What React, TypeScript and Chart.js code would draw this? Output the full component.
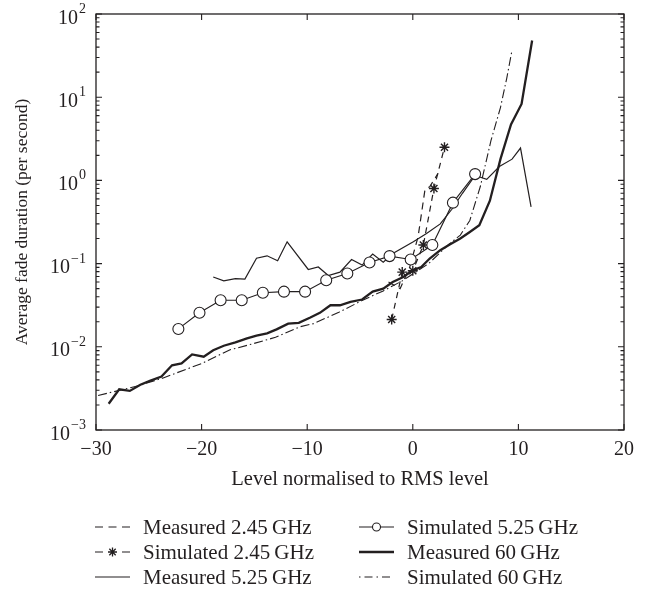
import React, { useEffect, useRef } from 'react';
import { Chart, registerables } from 'chart.js';

Chart.register(...registerables);

const INK = '#231f20';
const FONT = '"Liberation Serif", "Times New Roman", serif';
const FONT_SIZE = 20;
const LEGEND_FONT_SIZE = 21;
const YTITLE_FONT_SIZE = 17.5;

// Axis definitions
const xTickValues = [-30, -20, -10, 0, 10, 20];
const yDecades = [1e-3, 1e-2, 1e-1, 1, 10, 100];
const yExponents = ['\u22123', '\u22122', '\u22121', '0', '1', '2'];
const xTitle = 'Level normalised to RMS level';
const yTitle = 'Average fade duration (per second)';

// Series: Measured 2.45 GHz
const measured245X = [-2.3, -1.2, -0.3, 0.5, 1.15, 1.6, 2.4];
const measured245Y = [0.06, 0.05, 0.09, 0.21, 0.77, 0.84, 1.22];

// Series: Simulated 2.45 GHz
const simulated245X = [-2, -1, 0, 1, 2, 3];
const simulated245Y = [0.0213, 0.079, 0.082, 0.167, 0.8, 2.5];

// Series: Measured 5.25 GHz
const measured525X = [-18.9, -17.9, -16.8, -15.9, -14.8, -13.8, -12.8, -11.9, -9.9, -8.95, -8.0, -6.9, -5.8, -4.8, -3.8, -2.8, -1.85, 0.05, 1.3, 2.6, 3.7, 4.7, 5.9, 7.0, 8.2, 9.4, 10.2, 11.2];
const measured525Y = [0.069, 0.062, 0.066, 0.065, 0.116, 0.124, 0.108, 0.183, 0.085, 0.091, 0.072, 0.079, 0.112, 0.096, 0.13, 0.104, 0.133, 0.183, 0.23, 0.3, 0.45, 0.7, 1.15, 1.03, 1.47, 1.8, 2.45, 0.48];

// Series: Simulated 5.25 GHz
const simulated525X = [-22.2, -20.2, -18.2, -16.2, -14.2, -12.2, -10.2, -8.2, -6.2, -4.1, -2.2, -0.2, 1.85, 3.8, 5.9];
const simulated525Y = [0.0164, 0.0257, 0.0363, 0.0363, 0.0447, 0.046, 0.046, 0.063, 0.076, 0.103, 0.123, 0.112, 0.167, 0.54, 1.19];

// Series: Measured 60 GHz
const measured60X = [-28.8, -27.8, -26.8, -25.8, -24.9, -23.8, -22.8, -21.9, -20.9, -19.8, -18.9, -17.9, -16.8, -15.7, -14.8, -13.8, -12.9, -11.8, -10.8, -9.7, -8.8, -7.8, -6.9, -5.9, -4.8, -3.8, -2.8, -1.9, -0.9, 0, 0.8, 1.6, 2.6, 3.5, 4.5, 5.4, 6.3, 7.3, 8.3, 9.3, 10.3, 11.3];
const measured60Y = [0.00207, 0.00308, 0.00295, 0.0035, 0.0039, 0.0044, 0.006, 0.0063, 0.0081, 0.0076, 0.0091, 0.0103, 0.0113, 0.0126, 0.0136, 0.0145, 0.0162, 0.019, 0.0194, 0.0225, 0.0256, 0.0316, 0.0316, 0.0347, 0.037, 0.046, 0.05, 0.06, 0.069, 0.083, 0.091, 0.115, 0.145, 0.17, 0.2, 0.24, 0.29, 0.57, 1.8, 4.7, 8.3, 48];

// Series: Simulated 60 GHz
const simulated60X = [-29.8, -26, -23.7, -20, -17.3, -15.7, -13, -10.7, -9.4, -7, -4.8, -2.8, -1, 0, 1.5, 3.4, 4.5, 5.4, 6.4, 7.4, 8.3, 8.9, 9.4];
const simulated60Y = [0.0026, 0.0034, 0.0042, 0.0063, 0.0092, 0.0104, 0.013, 0.0174, 0.019, 0.026, 0.036, 0.047, 0.062, 0.075, 0.1, 0.17, 0.22, 0.33, 0.85, 3.0, 7.5, 17, 37];

const seriesNames = [
  'Measured 2.45\u2009GHz',
  'Simulated 2.45\u2009GHz',
  'Measured 5.25\u2009GHz',
  'Simulated 5.25\u2009GHz',
  'Measured 60\u2009GHz',
  'Simulated 60\u2009GHz',
];

const pts = (xs: number[], ys: number[]) => xs.map((x, i) => ({ x, y: ys[i] }));

const axesPlugin = {
  id: 'paperAxes',
  afterDatasetsDraw(chart: any) {
    const { ctx, chartArea: a, scales } = chart;
    const xs = scales.x;
    const ys = scales.y;
    ctx.save();
    ctx.strokeStyle = INK;
    ctx.lineWidth = 1.3;
    ctx.setLineDash([]);
    ctx.strokeRect(a.left, a.top, a.right - a.left, a.bottom - a.top);
    ctx.lineWidth = 1.1;
    const major = 6;
    const minor = 3.5;
    ctx.beginPath();
    xTickValues.forEach((v) => {
      const px = xs.getPixelForValue(v);
      ctx.moveTo(px, a.bottom);
      ctx.lineTo(px, a.bottom - major);
      ctx.moveTo(px, a.top);
      ctx.lineTo(px, a.top + major);
    });
    yDecades.forEach((d, i) => {
      const py = ys.getPixelForValue(d);
      ctx.moveTo(a.left, py);
      ctx.lineTo(a.left + major, py);
      ctx.moveTo(a.right, py);
      ctx.lineTo(a.right - major, py);
      if (i < yDecades.length - 1) {
        for (let m = 2; m <= 9; m++) {
          const pm = ys.getPixelForValue(d * m);
          ctx.moveTo(a.left, pm);
          ctx.lineTo(a.left + minor, pm);
          ctx.moveTo(a.right, pm);
          ctx.lineTo(a.right - minor, pm);
        }
      }
    });
    ctx.stroke();

    // y tick labels: 10 with superscript exponent
    ctx.fillStyle = INK;
    ctx.textAlign = 'right';
    ctx.textBaseline = 'alphabetic';
    const expRight = a.left - 10;
    yDecades.forEach((d, i) => {
      const py = ys.getPixelForValue(d);
      ctx.font = `14px ${FONT}`;
      const ew = ctx.measureText(yExponents[i]).width;
      ctx.fillText(yExponents[i], expRight, py - 1);
      ctx.font = `${FONT_SIZE}px ${FONT}`;
      ctx.fillText('10', expRight - ew - 1, py + 9.5);
    });

    // legend
    const colX = [95, 359];
    const rowY = [527, 552, 577];
    const sampleW = 35;
    const textGap = 48;
    chart.data.datasets.forEach((ds: any) => {
      const k = ds.legendIndex;
      const col = Math.floor(k / 3);
      const row = k % 3;
      const x0 = colX[col];
      const y0 = rowY[row];
      ctx.save();
      ctx.strokeStyle = INK;
      ctx.lineWidth = ds.borderWidth;
      ctx.setLineDash(ds.legendDash || []);
      ctx.beginPath();
      ctx.moveTo(x0, y0);
      ctx.lineTo(x0 + sampleW, y0);
      ctx.stroke();
      ctx.setLineDash([]);
      if (ds.pointStyle === 'circle' && ds.pointRadius > 0) {
        ctx.beginPath();
        ctx.fillStyle = '#ffffff';
        ctx.lineWidth = 1.1;
        ctx.arc(x0 + sampleW / 2, y0, 4, 0, Math.PI * 2);
        ctx.fill();
        ctx.stroke();
      } else if (ds.pointStyle === 'star' && ds.pointRadius > 0) {
        const cx = x0 + sampleW / 2;
        const r = 4.5;
        ctx.lineWidth = 1.3;
        ctx.beginPath();
        for (let j = 0; j < 4; j++) {
          const ang = (j * Math.PI) / 4;
          ctx.moveTo(cx - r * Math.cos(ang), y0 - r * Math.sin(ang));
          ctx.lineTo(cx + r * Math.cos(ang), y0 + r * Math.sin(ang));
        }
        ctx.stroke();
      }
      ctx.fillStyle = INK;
      ctx.font = `${LEGEND_FONT_SIZE}px ${FONT}`;
      ctx.textAlign = 'left';
      ctx.textBaseline = 'middle';
      ctx.fillText(ds.label, x0 + textGap, y0 + 1);
      ctx.restore();
    });
    ctx.restore();
  },
};

export default function App() {
  const ref = useRef<HTMLCanvasElement | null>(null);

  useEffect(() => {
    if (!ref.current) return;
    const base = {
      borderColor: INK,
      backgroundColor: INK,
      fill: false,
      tension: 0,
      pointRadius: 0,
      pointHoverRadius: 0,
    };
    const datasets: any[] = [
      {
        ...base,
        label: seriesNames[3],
        legendIndex: 3,
        data: pts(simulated525X, simulated525Y),
        borderWidth: 1.1,
        pointStyle: 'circle',
        pointRadius: 5.5,
        pointBorderWidth: 1.1,
        pointBackgroundColor: 'rgba(255,255,255,1)',
        pointBorderColor: INK,
        legendDash: [],
      },
      {
        ...base,
        label: seriesNames[1],
        legendIndex: 1,
        data: pts(simulated245X, simulated245Y),
        borderWidth: 1.2,
        borderDash: [6, 5],
        pointStyle: 'star',
        pointRadius: 5,
        pointBorderWidth: 1.4,
        pointBorderColor: INK,
        legendDash: [8, 19],
      },
      {
        ...base,
        label: seriesNames[0],
        legendIndex: 0,
        data: pts(measured245X, measured245Y),
        borderWidth: 1.2,
        borderDash: [7, 5],
        legendDash: [8, 5.5],
      },
      {
        ...base,
        label: seriesNames[2],
        legendIndex: 2,
        data: pts(measured525X, measured525Y),
        borderWidth: 1.2,
        legendDash: [],
      },
      {
        ...base,
        label: seriesNames[5],
        legendIndex: 5,
        data: pts(simulated60X, simulated60Y),
        borderWidth: 1.1,
        borderDash: [9, 3, 1.5, 3],
        legendDash: [1.5, 4, 8, 4],
      },
      {
        ...base,
        label: seriesNames[4],
        legendIndex: 4,
        data: pts(measured60X, measured60Y),
        borderWidth: 2.3,
        legendDash: [],
      },
    ];

    const chart = new Chart(ref.current, {
      type: 'line',
      data: { datasets },
      plugins: [axesPlugin],
      options: {
        responsive: false,
        animation: false,
        devicePixelRatio: 1,
        layout: { padding: { left: 0, right: 29, top: 14, bottom: 0 } },
        plugins: {
          legend: { display: false },
          tooltip: { enabled: false },
        },
        scales: {
          x: {
            type: 'linear',
            min: -30,
            max: 20,
            grid: { display: false, drawTicks: false },
            border: { display: false },
            afterBuildTicks: (scale: any) => {
              scale.ticks = xTickValues.map((v) => ({ value: v }));
            },
            afterFit: (scale: any) => {
              scale.height = 164;
            },
            ticks: {
              color: INK,
              padding: 8,
              maxRotation: 0,
              autoSkip: false,
              font: { family: FONT, size: FONT_SIZE },
              callback: (v: any) => (Number(v) < 0 ? '\u2212' + Math.abs(Number(v)) : String(v)),
            },
            title: {
              display: true,
              text: xTitle,
              color: INK,
              font: { family: FONT, size: 20.5 },
              padding: { top: 0, bottom: 102 },
            },
          },
          y: {
            type: 'logarithmic',
            min: 1e-3,
            max: 1e2,
            grid: { display: false, drawTicks: false },
            border: { display: false },
            afterBuildTicks: (scale: any) => {
              scale.ticks = yDecades.map((v) => ({ value: v }));
            },
            afterFit: (scale: any) => {
              scale.width = 96;
            },
            ticks: { display: false },
            title: {
              display: true,
              text: yTitle,
              color: INK,
              font: { family: FONT, size: YTITLE_FONT_SIZE },
              padding: { top: 12, bottom: 0 },
            },
          },
        },
      } as any,
    });
    return () => chart.destroy();
  }, []);

  return (
    <canvas
      ref={ref}
      width={653}
      height={594}
      style={{ position: 'absolute', left: 0, top: 0, width: '653px', height: '594px' }}
    />
  );
}
